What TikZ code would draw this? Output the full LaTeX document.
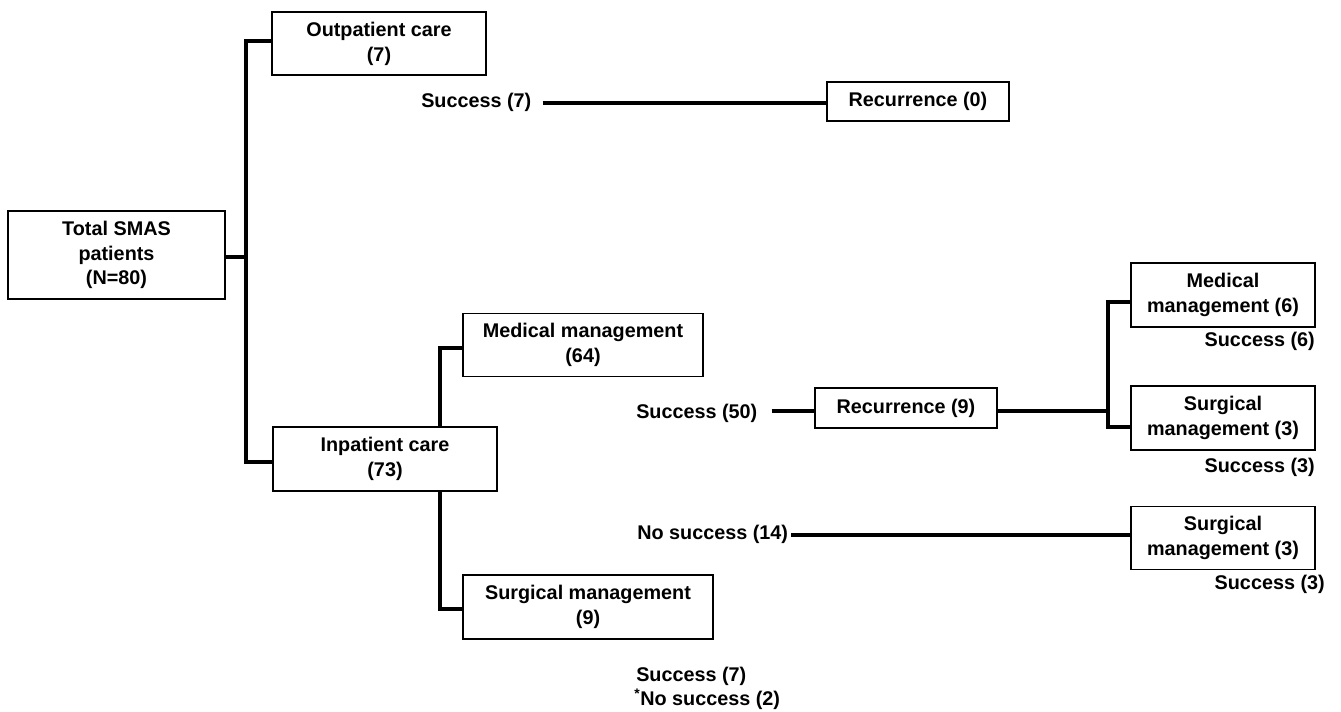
\documentclass[tikz,border=0pt]{standalone}
\usepackage{fontspec}
\setmainfont{Liberation Sans}
\usetikzlibrary{calc}
\begin{document}
\begin{tikzpicture}[x=0.75pt,y=-0.75pt,
  every node/.style={font=\fontsize{14.85}{18.6}\selectfont\bfseries},
  box/.style={draw=black,line width=1.3pt,align=center,inner sep=0pt},
  lbl/.style={inner sep=0pt},
  conn/.style={draw=black,line width=2.4pt}]
\useasboundingbox (0,0) rectangle (1341,712);
% boxes
\node[box,minimum width=162.75pt,minimum height=66pt] (total) at (116.5,255) {Total SMAS\\patients\\(N=80)};
\node[box,minimum width=160.1pt,minimum height=47.25pt] (outp) at (379,43.5) {Outpatient care\\(7)};
\node[box,minimum width=136.5pt,minimum height=29.25pt] (rec0) at (918,101.5) {Recurrence (0)};
\node[box,minimum width=180pt,minimum height=47.25pt] (med64) at (583,345) {Medical management\\(64)};
\node[box,minimum width=168.4pt,minimum height=48pt] (inp) at (385,459) {Inpatient care\\(73)};
\node[box,minimum width=187.5pt,minimum height=47.75pt] (surg9) at (588,607) {Surgical management\\(9)};
\node[box,minimum width=136.5pt,minimum height=30pt] (rec9) at (906,408) {Recurrence (9)};
\node[box,minimum width=138pt,minimum height=48pt] (med6) at (1223,294.7) {Medical\\management (6)};
\node[box,minimum width=138pt,minimum height=48pt] (surg3a) at (1223,418) {Surgical\\management (3)};
\node[box,minimum width=138pt,minimum height=47.25pt] (surg3b) at (1223,538) {Surgical\\management (3)};
% labels
\node[lbl,anchor=west] (succ7) at (421,102) {Success (7)};
\node[lbl,anchor=west] (succ50) at (636,413) {Success (50)};
\node[lbl,anchor=west] (nos14) at (637,534) {No success (14)};
\node[lbl,anchor=west] (succ7b) at (636,676) {Success (7)};
\node[lbl,anchor=west] (nos2) at (634,699) {\textsuperscript{*}No success (2)};
\node[lbl,anchor=east] (succ6) at (1315,341) {Success (6)};
\node[lbl,anchor=east] (succ3a) at (1315,467) {Success (3)};
\node[lbl,anchor=east] (succ3b) at (1325,584) {Success (3)};
% junction coordinates
\coordinate (j1) at (246,257);
\coordinate (j2) at (440,348);
\coordinate (j3) at (1108,411);
% connectors
\draw[conn] (total.east |- j1) -- (j1);
\draw[conn] ($(outp.west)+(0,-2.5)$) -| (j1);
\draw[conn] (j1) |- ($(inp.west)+(0,3)$);
\draw[conn] (inp.north -| j2) |- ($(med64.west)+(0,3)$);
\draw[conn] (inp.south -| j2) |- ($(surg9.west)+(0,2)$);
\draw[conn] ($(succ7.east)+(11,1)$) -- ($(succ7.east -| rec0.west)+(0,1)$);
\draw[conn] ($(succ50.east)+(14,-2)$) -- ($(rec9.west)+(0,3)$);
\draw[conn] ($(rec9.east)+(0,3)$) -- (j3);
\draw[conn] ($(med6.west)+(0,7.3)$) -| (j3);
\draw[conn] (j3) |- ($(surg3a.west)+(0,9)$);
\draw[conn] ($(nos14.east)+(3,1)$) -- ($(nos14.east -| surg3b.west)+(0,1)$);
\end{tikzpicture}
\end{document}
